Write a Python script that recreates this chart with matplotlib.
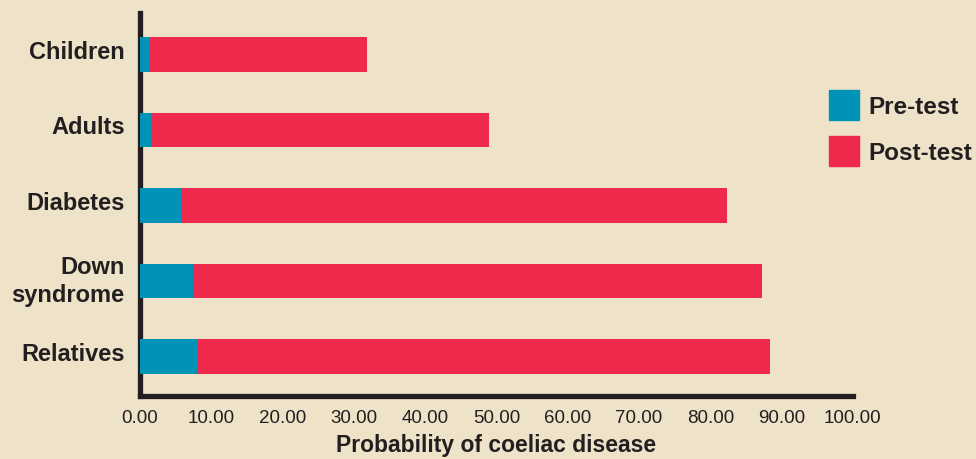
import numpy as np
import matplotlib.pyplot as plt
import matplotlib.transforms as mtransforms
from matplotlib.patches import Patch

categories = ["Children", "Adults", "Diabetes", "Down\nsyndrome", "Relatives"]
pre_test = [1.3, 1.6, 5.8, 7.5, 8.1]
post_test = [31.8, 48.9, 82.3, 87.2, 88.4]
xticks = np.arange(0, 101, 10)

bg = "#EEE2C8"
blue = "#0093B8"
red = "#EF294C"
ink = "#231F20"

fig = plt.figure(figsize=(9.76, 4.6), dpi=100, facecolor=bg)
ax = fig.add_axes([0.1434, 0.138, 0.7305, 0.8316])
ax.set_facecolor(bg)

y = np.arange(len(categories))
ax.barh(y, post_test, height=0.46, color=red, zorder=2)
ax.barh(y, pre_test, height=0.46, color=blue, zorder=3)

ax.set_xlim(0, 100)
ax.set_ylim(4.516, -0.55)
ax.set_yticks(y)
ax.set_yticklabels(categories, fontsize=17, fontweight="bold", color=ink,
                   family="Liberation Sans", linespacing=1.3)
ax.set_xticks(xticks)
ax.set_xticklabels([f"{v:.2f}" for v in xticks], fontsize=13.5, color=ink,
                   family=["Liberation Sans Narrow", "Liberation Sans"])
ax.tick_params(axis="y", length=0, pad=11)
ax.tick_params(axis="x", length=0, pad=10)

# labels sit a little above the bar centres in the original
shift = mtransforms.ScaledTranslation(0, 4 / 72, fig.dpi_scale_trans)
for lbl in ax.get_yticklabels():
    lbl.set_transform(lbl.get_transform() + shift)

for s in ["top", "right"]:
    ax.spines[s].set_visible(False)
for s in ["left", "bottom"]:
    ax.spines[s].set_linewidth(3.8)
    ax.spines[s].set_color(ink)
    ax.spines[s].set_capstyle("projecting")

ax.set_xlabel("Probability of coeliac disease", fontsize=16.5, fontweight="bold",
              color=ink, family="Liberation Sans", labelpad=5)

handles = [Patch(color=blue, label="Pre-test"), Patch(color=red, label="Post-test")]
leg = fig.legend(handles=handles, loc="upper left", bbox_to_anchor=(829 / 976, 1 - 91 / 460),
                 bbox_transform=fig.transFigure,
                 frameon=False, handlelength=1.23, handleheight=1.52, handletextpad=0.4,
                 labelspacing=0.66, borderaxespad=0, borderpad=0,
                 prop={"family": "Liberation Sans", "weight": "bold", "size": 17.5})
for t in leg.get_texts():
    t.set_color(ink)

fig.savefig("out.png", dpi=100, facecolor=bg)
